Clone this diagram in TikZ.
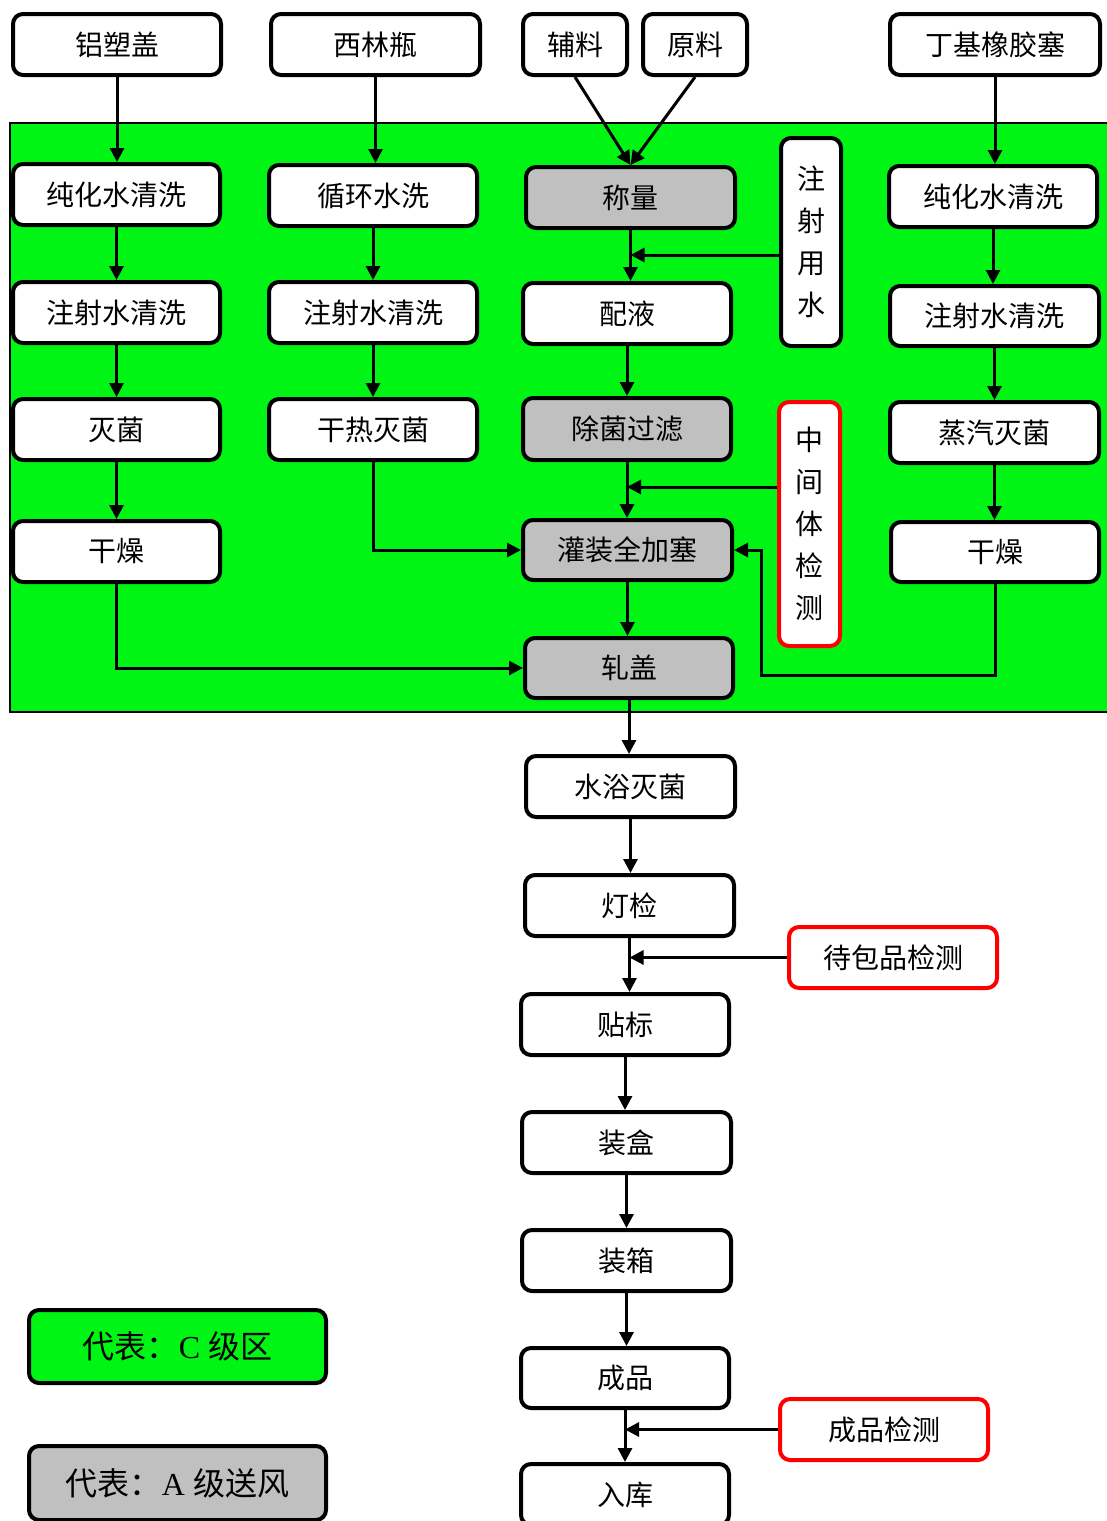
\documentclass[tikz,border=0pt]{standalone}
\usepackage{fontspec}
\setmainfont{Liberation Serif}
\newfontfamily\cjk{Noto Sans CJK SC}
\usetikzlibrary{arrows.meta}
\definecolor{zoneC}{RGB}{0,245,20}
\definecolor{zoneA}{RGB}{192,192,192}
\definecolor{chk}{RGB}{255,0,0}
\newcommand\bx[7]{%
  \pgfmathsetmacro\bxw{(#5-#3)*0.5-2}%
  \pgfmathsetmacro\bxh{(#6-#4)*0.5-2}%
  \node[#2, minimum width=\bxw pt, minimum height=\bxh pt] (#1) at ({(#3+#5)/2},{(#4+#6)/2}) {#7};%
}
\begin{document}
\begin{tikzpicture}[x=0.5pt,y=-0.5pt,
  box/.style={draw=black, line width=2pt, rounded corners=5pt, fill=white, inner sep=0pt,
    text=black, font=\cjk\fontsize{14pt}{17pt}\selectfont},
  gbox/.style={box, fill=zoneA},
  rbox/.style={box, draw=chk},
  vbox/.style={box, align=center, font=\cjk\fontsize{14pt}{21pt}\selectfont},
  legendbox/.style={box, font=\cjk\fontsize{16pt}{19pt}\selectfont},
  flow/.style={line width=1.5pt, draw=black, -{Triangle[length=7pt,width=7pt]}}]
\useasboundingbox (0,0) rectangle (1107,1521);
\fill[white] (0,0) rectangle (1107,1521);
% C-grade zone
\filldraw[fill=zoneC, draw=black, line width=0.75pt] (10,123) rectangle (1112,712);
% top row
\bx{tl1}{box}{11}{12}{223}{77}{铝塑盖}
\bx{tl2}{box}{269}{12}{482}{77}{西林瓶}
\bx{fl}{box}{521}{12}{629}{77}{辅料}
\bx{yl}{box}{641}{12}{749}{77}{原料}
\bx{dj}{box}{888}{12}{1102}{77}{丁基橡胶塞}
% left column
\bx{a1}{box}{11}{162}{222}{227}{纯化水清洗}
\bx{a2}{box}{11}{280}{222}{345}{注射水清洗}
\bx{a3}{box}{11}{397}{222}{462}{灭菌}
\bx{a4}{box}{11}{519}{222}{584}{干燥}
% second column
\bx{b1}{box}{267}{163}{479}{228}{循环水洗}
\bx{b2}{box}{267}{280}{479}{345}{注射水清洗}
\bx{b3}{box}{267}{397}{479}{462}{干热灭菌}
% main column
\bx{c1}{gbox}{524}{165}{737}{230}{称量}
\bx{c2}{box}{521}{281}{733}{346}{配液}
\bx{c3}{gbox}{521}{396}{733}{462}{除菌过滤}
\bx{c4}{gbox}{521}{518}{734}{582}{灌装全加塞}
\bx{c5}{gbox}{523}{636}{735}{700}{轧盖}
% vertical boxes
\bx{zs}{vbox}{779}{136}{843}{348}{注\\射\\用\\水}
\bx{zj}{vbox, draw=chk}{777}{400}{842}{648}{中\\间\\体\\检\\测}
% right column
\bx{d1}{box}{887}{164}{1099}{229}{纯化水清洗}
\bx{d2}{box}{888}{284}{1101}{348}{注射水清洗}
\bx{d3}{box}{888}{400}{1101}{465}{蒸汽灭菌}
\bx{d4}{box}{889}{520}{1101}{584}{干燥}
% lower column
\bx{e1}{box}{524}{754}{737}{819}{水浴灭菌}
\bx{e2}{box}{523}{873}{736}{938}{灯检}
\bx{e3}{box}{519}{992}{731}{1057}{贴标}
\bx{e4}{box}{520}{1110}{733}{1175}{装盒}
\bx{e5}{box}{520}{1228}{733}{1293}{装箱}
\bx{e6}{box}{519}{1346}{731}{1410}{成品}
\bx{e7}{box}{519}{1462}{731}{1527}{入库}
\bx{k1}{rbox}{787}{925}{999}{990}{待包品检测}
\bx{k2}{rbox}{778}{1397}{990}{1462}{成品检测}
% legend
\bx{L1}{legendbox, fill=zoneC}{27}{1308}{328}{1385}{代表：{\rmfamily C }级区}
\bx{L2}{legendbox, fill=zoneA}{27}{1444}{328}{1522}{代表：{\rmfamily A }级送风}
% connectors: top row
\draw[flow] (tl1.south) -- (tl1.south |- a1.north);
\draw[flow] (tl2.south) -- (tl2.south |- b1.north);
\draw[flow] (fl.south) -- (c1.north);
\draw[flow] (yl.south) -- (c1.north);
\draw[flow] (dj.south) -- (dj.south |- d1.north);
% left column
\draw[flow] (a1.south) -- (a1.south |- a2.north);
\draw[flow] (a2.south) -- (a2.south |- a3.north);
\draw[flow] (a3.south) -- (a3.south |- a4.north);
\draw[flow] (a4.south) |- (c5.west);
% second column
\draw[flow] (b1.south) -- (b1.south |- b2.north);
\draw[flow] (b2.south) -- (b2.south |- b3.north);
\draw[flow] (b3.south) |- (c4.west);
% main column
\draw[flow] (c1.south) -- (c1.south |- c2.north);
\draw[flow] (zs.west |- 0,255) -- (c1.south |- 0,255);
\draw[flow] (c2.south) -- (c2.south |- c3.north);
\draw[flow] (c3.south) -- (c3.south |- c4.north);
\draw[flow] (zj.west |- 0,487) -- (c3.south |- 0,487);
\draw[flow] (c4.south) -- (c4.south |- c5.north);
% right column
\draw[flow] (d1.south) -- (d1.south |- d2.north);
\draw[flow] (d2.south) -- (d2.south |- d3.north);
\draw[flow] (d3.south) -- (d3.south |- d4.north);
\draw[flow] (d4.south) |- (761,675) |- (c4.east);
% lower column
\draw[flow] (c5.south) -- (c5.south |- e1.north);
\draw[flow] (e1.south) -- (e1.south |- e2.north);
\draw[flow] (e2.south) -- (e2.south |- e3.north);
\draw[flow] (k1.west) -- (k1.west -| e2.south);
\draw[flow] (e3.south) -- (e3.south |- e4.north);
\draw[flow] (e4.south) -- (e4.south |- e5.north);
\draw[flow] (e5.south) -- (e5.south |- e6.north);
\draw[flow] (e6.south) -- (e6.south |- e7.north);
\draw[flow] (k2.west) -- (k2.west -| e6.south);
\end{tikzpicture}
\end{document}
